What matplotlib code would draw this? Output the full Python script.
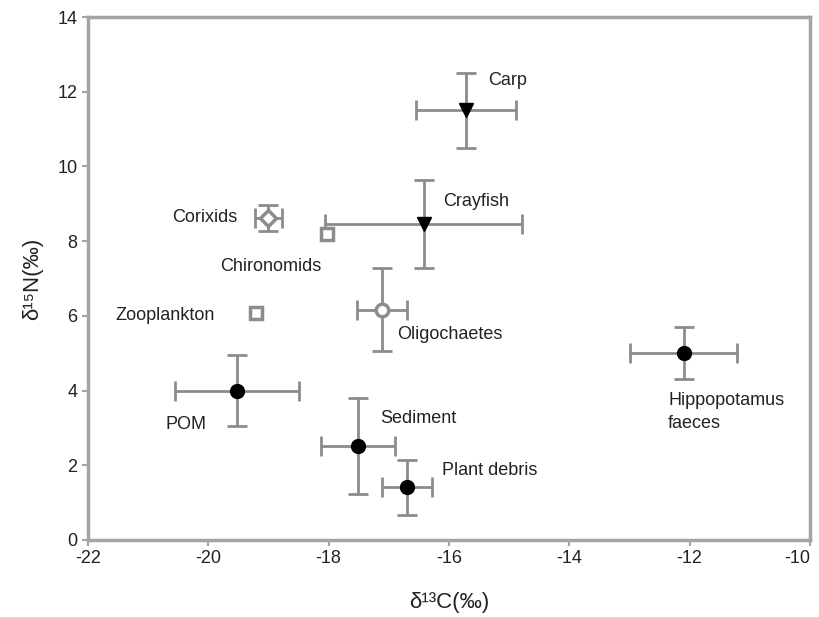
import matplotlib.pyplot as plt

plt.rcParams['font.family'] = ['Liberation Sans', 'DejaVu Sans']
plt.rcParams['axes.unicode_minus'] = False

# isotope data: mean and sd
names = ['Carp', 'Crayfish', 'Corixids', 'Chironomids', 'Zooplankton', 'Oligochaetes',
         'Hippopotamus\nfaeces', 'POM', 'Sediment', 'Plant debris']
d13c = [-15.72, -16.42, -19.0, -18.02, -19.2, -17.11, -12.1, -19.52, -17.51, -16.70]
d15n = [11.5, 8.46, 8.62, 8.18, 6.07, 6.17, 5.0, 3.99, 2.52, 1.41]
sd_c = [0.83, 1.64, 0.22, 0.06, 0.06, 0.42, 0.89, 1.03, 0.61, 0.42]
sd_n = [1.0, 1.18, 0.35, 0.1, 0.08, 1.1, 0.69, 0.95, 1.29, 0.73]
markers = ['v', 'v', 'D', 's', 's', 'o', 'o', 'o', 'o', 'o']
filled = [True, True, False, False, False, False, True, True, True, True]

# label positions (x, y, ha)
lab_x = [-15.35, -16.1, -19.52, -18.96, -19.9, -16.86, -12.36, -20.72, -17.15, -16.12]
lab_y = [12.3, 9.05, 8.62, 7.33, 6.0, 5.51, 3.43, 3.1, 3.24, 1.85]
lab_ha = ['left', 'left', 'right', 'center', 'right', 'left', 'left', 'left', 'left', 'left']

fig = plt.figure(figsize=(8.2, 6.17), dpi=100)
ax = fig.add_axes([0.1073, 0.1248, 0.8805, 0.8476])

grey = '#8c8c8c'
for i in range(len(names)):
    cs = 7 if sd_c[i] > 0.1 else 0
    ax.errorbar(d13c[i], d15n[i], xerr=sd_c[i], yerr=sd_n[i], fmt='none',
                ecolor=grey, elinewidth=2, capsize=cs, capthick=2, zorder=2)
    if filled[i]:
        ax.plot(d13c[i], d15n[i], marker=markers[i], ms=10, color='black',
                mec='black', ls='none', zorder=3)
    else:
        ms = 8 if markers[i] == 'D' else 9
        ax.plot(d13c[i], d15n[i], marker=markers[i], ms=ms, mfc='white',
                mec=grey, mew=2.5, ls='none', zorder=3)
    ax.text(lab_x[i], lab_y[i], names[i], ha=lab_ha[i], va='center',
            fontsize=13, color='#222222', linespacing=1.5)

ax.set_xlim(-22, -10)
ax.set_ylim(0, 14)
ax.set_xticks(range(-22, -9, 2))
ax.set_yticks(range(0, 15, 2))
for s in ax.spines.values():
    s.set_color('#a4a4a4')
    s.set_linewidth(2.5)
ax.tick_params(colors='#a4a4a4', labelcolor='#222222', labelsize=13,
               length=4, width=1.5)
ax.get_xticklabels()[-1].set_horizontalalignment('right')
ax.set_xlabel('δ¹³C(‰)', fontsize=16, color='#222222', labelpad=18)
ax.set_ylabel('δ¹⁵N(‰)', fontsize=16, color='#222222', labelpad=10)

fig.savefig('out.png', dpi=100)
